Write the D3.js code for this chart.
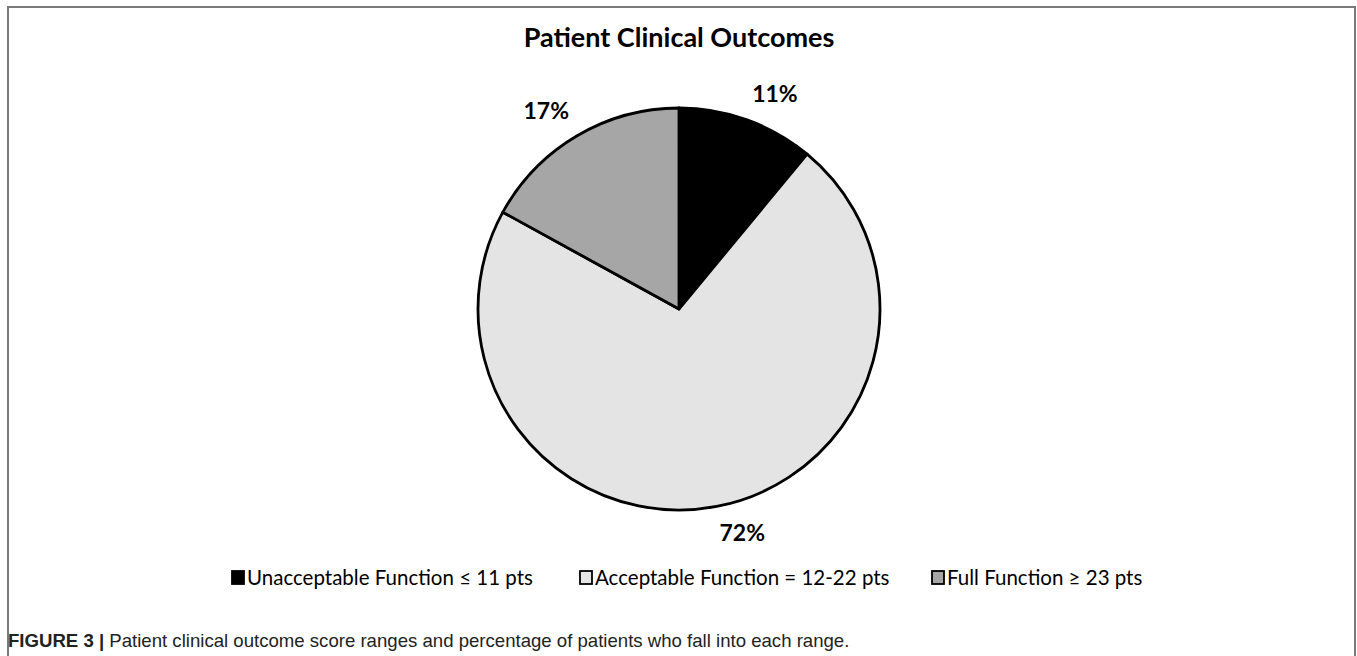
<!DOCTYPE html>
<html>
<head>
<meta charset="utf-8">
<script src="https://cdn.jsdelivr.net/npm/d3@7"></script>
<style>
  body { margin: 0; background: #fff; }
  svg { display: block; }
</style>
</head>
<body>
<div id="container"></div>
<script>
const categories = ["Unacceptable Function \u2264 11 pts", "Acceptable Function = 12-22 pts", "Full Function \u2265 23 pts"];
const values = [11, 72, 17];
const labels = ["11%", "72%", "17%"];
const colors = ["#000000", "#e4e4e4", "#a6a6a6"];

const w = 1357, h = 656;
const cx = 679, cy = 309, r = 201;

const svg = d3.select("#container").append("svg").attr("width", w).attr("height", h);

// frame round the figure (open at the bottom)
svg.append("path")
  .attr("d", `M8,${h} L8,7 L1355,7 L1355,${h}`)
  .attr("fill", "none").attr("stroke", "#7a7a7a").attr("stroke-width", 2);

svg.append("text")
  .attr("x", cx).attr("y", 47)
  .attr("text-anchor", "middle")
  .style("font-family", "Lato, 'Open Sans', sans-serif")
  .style("font-weight", "bold").style("font-size", "27px")
  .text("Patient Clinical Outcomes");

const pie = d3.pie().sort(null).value(d => d);
const arcs = pie(values);
const arc = d3.arc().innerRadius(0).outerRadius(r);
const labelR = 216;

const g = svg.append("g").attr("transform", `translate(${cx},${cy})`);

g.selectAll("path.slice")
  .data(arcs)
  .enter()
  .append("path")
    .attr("class", "slice")
    .attr("d", arc)
    .attr("fill", (d, i) => colors[i])
    .attr("stroke", "#000")
    .attr("stroke-width", 2.8)
    .attr("stroke-linejoin", "round");

// outside-end labels: the corner of the label box nearest the pie sits on labelR
g.selectAll("text.lbl")
  .data(arcs)
  .enter()
  .append("text")
    .attr("class", "lbl")
    .attr("text-anchor", "middle")
    .attr("dy", "0.35em")
    .style("font-family", "Lato, 'Open Sans', sans-serif")
    .style("font-weight", "bold").style("font-size", "23px")
    .text((d, i) => labels[i])
    .attr("transform", function(d) {
      const a = (d.startAngle + d.endAngle) / 2;
      const hw = this.getComputedTextLength() / 2;
      const hh = 12;
      const x = labelR * Math.sin(a) + hw * Math.sign(Math.sin(a));
      const y = -labelR * Math.cos(a) - hh * Math.sign(Math.cos(a));
      return `translate(${x},${y})`;
    });

// legend
const legendX = [231, 579, 931];
const legend = svg.append("g");
const items = legend.selectAll("g")
  .data(categories)
  .enter()
  .append("g")
    .attr("transform", (d, i) => `translate(${legendX[i]}, 578)`);

items.append("rect")
  .attr("x", 1).attr("y", -7)
  .attr("width", 12).attr("height", 13)
  .attr("fill", (d, i) => colors[i])
  .attr("stroke", "#000").attr("stroke-width", 1.8);

items.append("text")
  .attr("x", 16).attr("dy", "0.35em")
  .style("font-family", "Lato, 'Open Sans', sans-serif")
  .style("font-size", "20.5px")
  .text(d => d);

// caption
const cap = svg.append("text")
  .attr("x", 8).attr("y", 647)
  .attr("fill", "#222")
  .style("font-family", "'Liberation Sans', Arial, sans-serif")
  .style("font-size", "18.6px");
cap.append("tspan").style("font-weight", "bold").text("FIGURE 3 | ");
cap.append("tspan").text("Patient clinical outcome score ranges and percentage of patients who fall into each range.");
</script>
</body>
</html>
